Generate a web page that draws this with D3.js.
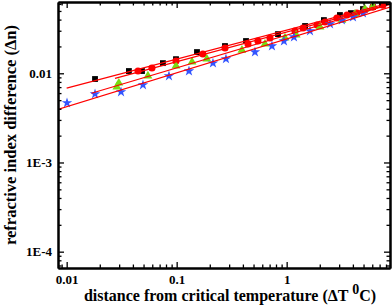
<!DOCTYPE html>
<html>
<head>
<meta charset="utf-8">
<script src="https://cdn.jsdelivr.net/npm/d3@7"></script>
<style>
  body { margin: 0; background: #fff; }
  svg text { font-family: "Liberation Serif", "DejaVu Serif", serif; font-weight: bold; }
</style>
</head>
<body>
<svg id="chart"></svg>
<script>
"use strict"

// distance from critical temperature (dT, deg C) and refractive index difference (dn)
let blackX = [0.0181, 0.0368, 0.0484, 0.075, 0.0986, 0.153, 0.275, 0.427, 0.834, 1.47, 2.18, 3.05, 3.84, 4.94, 6.09, 7.35]
let blackY = [0.00863, 0.0106, 0.0106, 0.0130, 0.0144, 0.0173, 0.0202, 0.0230, 0.0275, 0.0339, 0.0395, 0.0450, 0.0473, 0.0525, 0.0552, 0.0581]

let redX = [0.0445, 0.0596, 0.0986, 0.173, 0.275, 0.445, 0.548, 0.705, 1.19, 1.41, 1.89, 2.23, 2.86, 3.53, 4.35, 5.15, 6.09, 7.5]
let redY = [0.0106, 0.01147, 0.01373, 0.01644, 0.0192, 0.0213, 0.0230, 0.0249, 0.0298, 0.0322, 0.0348, 0.0376, 0.0417, 0.0450, 0.0473, 0.0511, 0.0552, 0.0581]

let greenX = [0.0286, 0.0298, 0.0548, 0.0986, 0.138, 0.188, 0.392, 0.635, 0.966, 1.22, 2.01, 3.18, 4.18, 5.15, 6.09]
let greenY = [0.00703, 0.00778, 0.00933, 0.0121, 0.0134, 0.0145, 0.0182, 0.0213, 0.0249, 0.0269, 0.0331, 0.0395, 0.0462, 0.0525, 0.0567]

let blueX = [0.01007, 0.0181, 0.0312, 0.0494, 0.0851, 0.1294, 0.2138, 0.2806, 0.515, 0.735, 0.945, 1.165, 1.63, 2.48, 3.18, 4.01, 4.94]
let blueY = [0.00465, 0.00586, 0.00618, 0.00740, 0.00933, 0.0106, 0.0130, 0.0145, 0.0173, 0.0202, 0.0230, 0.0255, 0.0298, 0.0357, 0.0395, 0.0427, 0.0473]

// where each fitted power-law line begins (dT)
let fitStart = [0.01, 0.0275, 0.0168, 0.0083]
let fitEnd = 9

let xTicks = [0.01, 0.1, 1]
let xTickLabels = ["0.01", "0.1", "1"]
let yTicks = [1e-4, 1e-3, 0.01]
let yTickLabels = ["1E-4", "1E-3", "0.01"]

let W = 392, H = 307
let margin = {top: 2, right: 2, bottom: 39, left: 58}

let svg = d3.select("#chart").attr("width", W).attr("height", H)

let x = d3.scaleLog().domain([0.00834, 8.7]).range([margin.left, W - margin.right])
let y = d3.scaleLog().domain([6.56e-5, 0.063]).range([H - margin.bottom, margin.top])

let series = [
  {xs: blackX, ys: blackY, sym: d3.symbolSquare, size: 34, color: "#000000"},
  {xs: redX, ys: redY, sym: d3.symbolCircle, size: 40, color: "#ff0000"},
  {xs: greenX, ys: greenY, sym: d3.symbolTriangle, size: 34, color: "#77dd11"},
  {xs: blueX, ys: blueY, sym: d3.symbolStar, size: 34, color: "#3355ff"}
]

/* minor tick values between decades */
function minors(lo, hi) {
  let out = []
  for (let e = Math.floor(Math.log10(lo)); e <= Math.ceil(Math.log10(hi)); e++) {
    for (let m = 2; m <= 9; m++) {
      let v = m * Math.pow(10, e)
      if (v >= lo && v <= hi) out.push(v)
    }
  }
  return out
}
let xMinor = minors(x.domain()[0], x.domain()[1])
let yMinor = minors(y.domain()[0], y.domain()[1])

let x0 = margin.left, x1 = W - margin.right, y0 = H - margin.bottom, y1 = margin.top

/* clip for data */
svg.append("clipPath").attr("id", "plot")
  .append("rect").attr("x", x0).attr("y", y1).attr("width", x1 - x0).attr("height", y0 - y1)

let plot = svg.append("g").attr("clip-path", "url(#plot)")

/* markers */
series.forEach(s => {
  plot.append("g").selectAll("path")
    .data(s.xs.map((v, i) => [v, s.ys[i]]))
    .enter().append("path")
    .attr("d", d3.symbol().type(s.sym).size(s.size))
    .attr("transform", d => "translate(" + x(d[0]) + "," + y(d[1]) + ")")
    .attr("fill", s.color)
})

/* least squares in log-log space */
function fitLog(xs, ys) {
  let lx = xs.map(Math.log10), ly = ys.map(Math.log10)
  let mx = d3.mean(lx), my = d3.mean(ly)
  let sxy = d3.sum(lx, (v, i) => (v - mx) * (ly[i] - my))
  let sxx = d3.sum(lx, v => (v - mx) * (v - mx))
  let b = sxy / sxx
  return {b: b, a: my - b * mx}
}

let line = d3.line().x(d => x(d[0])).y(d => y(d[1]))
series.forEach((s, i) => {
  let f = fitLog(s.xs, s.ys)
  let pts = [fitStart[i], fitEnd].map(v => [v, Math.pow(10, f.a + f.b * Math.log10(v))])
  plot.append("path").datum(pts)
    .attr("d", line)
    .attr("fill", "none")
    .attr("stroke", "#ff0000")
    .attr("stroke-width", 1.2)
})

/* axes with inward ticks on all four sides */
function styleAxis(g) {
  g.selectAll("path.domain").attr("stroke", "#000").attr("stroke-width", 2)
  g.selectAll(".tick line").attr("stroke", "#000").attr("stroke-width", 1.3)
  g.selectAll("text").attr("font-size", 13).attr("fill", "#000")
    .attr("font-family", "'Liberation Serif', serif").attr("font-weight", "bold")
}

svg.append("g").attr("transform", "translate(0," + y0 + ")")
  .call(d3.axisBottom(x).tickValues(xMinor).tickFormat("").tickSize(-3.5).tickSizeOuter(0))
  .call(styleAxis)
svg.append("g").attr("transform", "translate(0," + y0 + ")")
  .call(d3.axisBottom(x).tickValues(xTicks).tickFormat((d, i) => xTickLabels[i]).tickSize(-6).tickSizeOuter(0).tickPadding(7))
  .call(styleAxis)

svg.append("g").attr("transform", "translate(0," + y1 + ")")
  .call(d3.axisTop(x).tickValues(xMinor).tickFormat("").tickSize(-3.5).tickSizeOuter(0))
  .call(styleAxis)
svg.append("g").attr("transform", "translate(0," + y1 + ")")
  .call(d3.axisTop(x).tickValues(xTicks).tickFormat("").tickSize(-6).tickSizeOuter(0))
  .call(styleAxis)

svg.append("g").attr("transform", "translate(" + x0 + ",0)")
  .call(d3.axisLeft(y).tickValues(yMinor).tickFormat("").tickSize(-3.5).tickSizeOuter(0))
  .call(styleAxis)
svg.append("g").attr("transform", "translate(" + x0 + ",0)")
  .call(d3.axisLeft(y).tickValues(yTicks).tickFormat((d, i) => yTickLabels[i]).tickSize(-6).tickSizeOuter(0).tickPadding(6))
  .call(styleAxis)

svg.append("g").attr("transform", "translate(" + x1 + ",0)")
  .call(d3.axisRight(y).tickValues(yMinor).tickFormat("").tickSize(-3.5).tickSizeOuter(0))
  .call(styleAxis)
svg.append("g").attr("transform", "translate(" + x1 + ",0)")
  .call(d3.axisRight(y).tickValues(yTicks).tickFormat("").tickSize(-6).tickSizeOuter(0))
  .call(styleAxis)

/* axis titles */
let xt = svg.append("text")
  .attr("x", 230).attr("y", 301)
  .attr("text-anchor", "middle")
  .attr("font-size", 16)
xt.append("tspan").text("distance from critical temperature (\u0394T ")
xt.append("tspan").attr("dy", -7).attr("font-size", 14).text("0")
xt.append("tspan").attr("dy", 7).text("C)")

svg.append("text")
  .attr("transform", "translate(16," + ((y0 + y1) / 2) + ") rotate(-90)")
  .attr("text-anchor", "middle")
  .attr("font-size", 16.5)
  .text("refractive index difference (\u0394n)")
</script>
</body>
</html>
